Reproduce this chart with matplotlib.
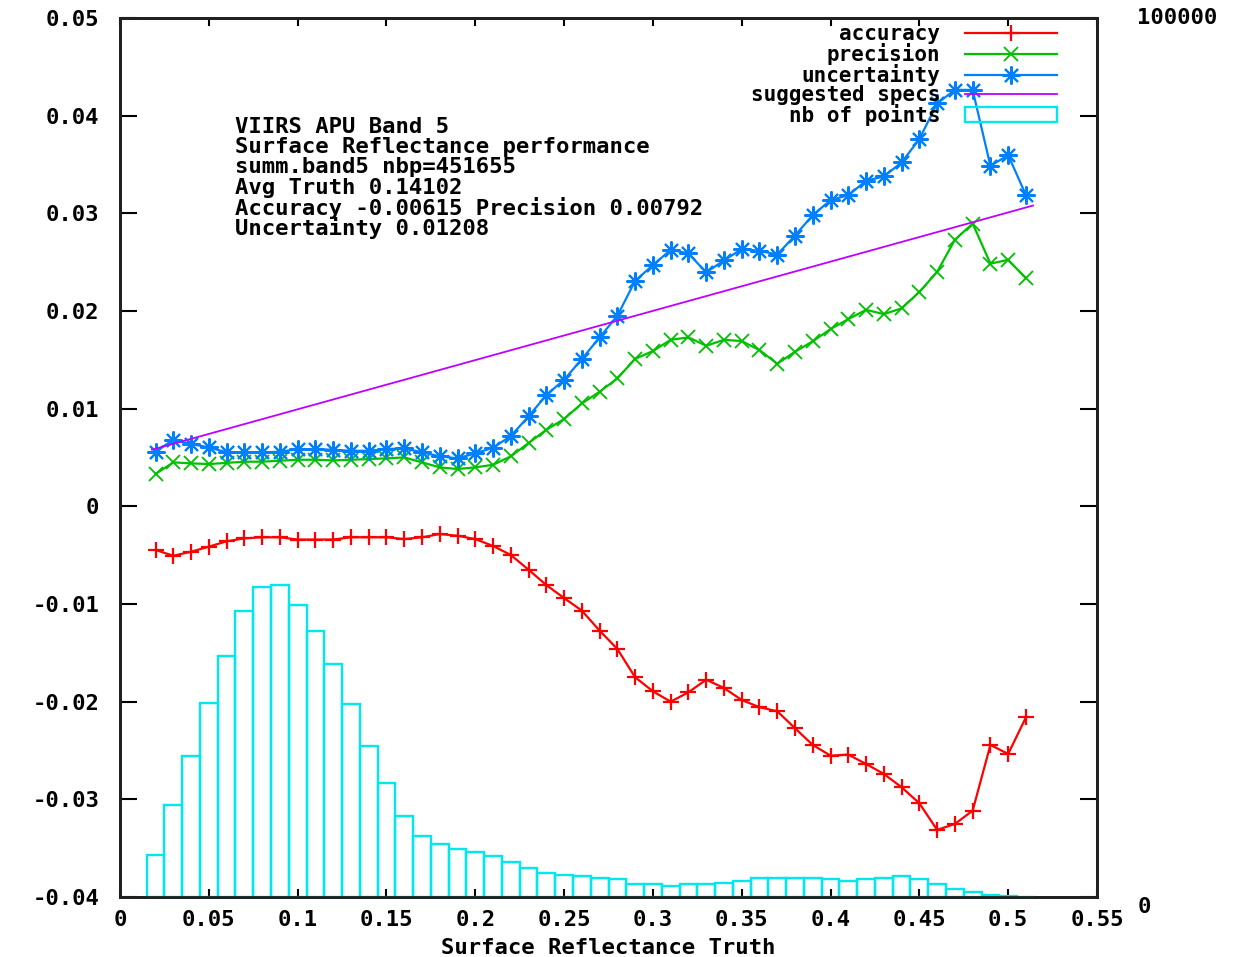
import matplotlib
matplotlib.use("Agg")
import matplotlib.pyplot as plt
from matplotlib.lines import Line2D
from matplotlib.patches import Patch

# ---- data -------------------------------------------------------------
reflectance = [0.02, 0.03, 0.04, 0.05, 0.06, 0.07, 0.08, 0.09, 0.10, 0.11,
               0.12, 0.13, 0.14, 0.15, 0.16, 0.17, 0.18, 0.19, 0.20, 0.21,
               0.22, 0.23, 0.24, 0.25, 0.26, 0.27, 0.28, 0.29, 0.30, 0.31,
               0.32, 0.33, 0.34, 0.35, 0.36, 0.37, 0.38, 0.39, 0.40, 0.41,
               0.42, 0.43, 0.44, 0.45, 0.46, 0.47, 0.48, 0.49, 0.50, 0.51]

accuracy = [-0.00447, -0.00506, -0.00465, -0.00413, -0.00358, -0.00328, -0.00317, -0.00317, -0.00340, -0.00340,
            -0.00340, -0.00317, -0.00317, -0.00317, -0.00335, -0.00317, -0.00284, -0.00301, -0.00335, -0.00406,
            -0.00498, -0.00649, -0.00806, -0.00939, -0.01068, -0.01273, -0.01461, -0.01750, -0.01894, -0.02000,
            -0.01904, -0.01775, -0.01860, -0.01983, -0.02057, -0.02098, -0.02272, -0.02443, -0.02553, -0.02542,
            -0.02638, -0.02740, -0.02876, -0.03040, -0.03313, -0.03252, -0.03116, -0.02443, -0.02535, -0.02160]

precision = [0.00331, 0.00450, 0.00440, 0.00433, 0.00445, 0.00457, 0.00457, 0.00467, 0.00477, 0.00477,
             0.00470, 0.00477, 0.00484, 0.00491, 0.00501, 0.00450, 0.00399, 0.00382, 0.00399, 0.00425,
             0.00512, 0.00648, 0.00784, 0.00894, 0.01054, 0.01173, 0.01310, 0.01510, 0.01590, 0.01705,
             0.01730, 0.01644, 0.01705, 0.01692, 0.01600, 0.01460, 0.01583, 0.01690, 0.01815, 0.01917,
             0.02012, 0.01968, 0.02027, 0.02195, 0.02400, 0.02730, 0.02895, 0.02485, 0.02524, 0.02334]

uncertainty = [0.00560, 0.00682, 0.00638, 0.00604, 0.00553, 0.00553, 0.00553, 0.00559, 0.00586, 0.00586,
               0.00579, 0.00569, 0.00569, 0.00586, 0.00594, 0.00553, 0.00512, 0.00491, 0.00542, 0.00600,
               0.00720, 0.00921, 0.01139, 0.01296, 0.01508, 0.01730, 0.01951, 0.02309, 0.02470, 0.02626,
               0.02590, 0.02395, 0.02518, 0.02634, 0.02616, 0.02578, 0.02773, 0.02982, 0.03135, 0.03186,
               0.03333, 0.03378, 0.03521, 0.03760, 0.04125, 0.04264, 0.04264, 0.03486, 0.03596, 0.03186]

nb_points = [4810, 10470, 16080, 22110, 27390, 32500, 35300, 35500, 33220, 30230,
             26470, 21920, 17180, 12940, 9220, 6940, 6030, 5500, 5150, 4660,
             3950, 3270, 2700, 2540, 2350, 2200, 2010, 1440, 1440, 1250,
             1440, 1440, 1630, 1820, 2160, 2160, 2160, 2160, 2010, 1820,
             2010, 2160, 2350, 2010, 1440, 950, 570, 230, 80, 0]

spec_x = [0.018, 0.514]
spec_y = [0.0058, 0.0308]

x_ticks = [0.0, 0.05, 0.10, 0.15, 0.20, 0.25, 0.30, 0.35, 0.40, 0.45, 0.50, 0.55]
x_tick_labels = ["0", "0.05", "0.1", "0.15", "0.2", "0.25", "0.3", "0.35",
                 "0.4", "0.45", "0.5", "0.55"]
y_ticks = [-0.04, -0.03, -0.02, -0.01, 0.0, 0.01, 0.02, 0.03, 0.04, 0.05]
y_tick_labels = ["-0.04", "-0.03", "-0.02", "-0.01", "0", "0.01", "0.02",
                 "0.03", "0.04", "0.05"]
y2_ticks = [0, 100000]
y2_tick_labels = ["0", "100000"]

info_lines = ["VIIRS APU Band 5",
              "Surface Reflectance performance",
              "summ.band5 nbp=451655",
              "Avg Truth 0.14102",
              "Accuracy -0.00615 Precision 0.00792",
              "Uncertainty 0.01208"]
legend_labels = ["accuracy", "precision", "uncertainty", "suggested specs",
                 "nb of points"]
x_label = "Surface Reflectance Truth"

# ---- style ------------------------------------------------------------
RED = "#ff0000"
GREEN = "#00c000"
BLUE = "#0080ff"
MAGENTA = "#c000ff"
CYAN = "#00e8ee"
FONT = dict(family="DejaVu Sans Mono", weight="bold")
FS = 16
LEG_FS = 15

W, H = 1255, 957
fig = plt.figure(figsize=(W / 100, H / 100), dpi=100)
ax = fig.add_axes([120 / W, 60 / H, 977 / W, 879 / H])
ax2 = ax.twinx()

# curves on the left axis
asterisk = (8, 2, 0)
acc_style = dict(color=RED, lw=1.6, marker="+", ms=12, mew=1.6)
pre_style = dict(color=GREEN, lw=1.6, marker="x", ms=10, mew=1.3)
unc_style = dict(color=BLUE, lw=1.6, marker=asterisk, ms=13, mew=1.5)
spec_style = dict(color=MAGENTA, lw=1.3)

ax.plot(reflectance, accuracy, **acc_style)
ax.plot(reflectance, precision, **pre_style)
ax.plot(reflectance, uncertainty, **unc_style)
ax.plot(spec_x, spec_y, **spec_style)

# histogram of points on the right axis
ax2.bar(reflectance, nb_points, width=0.01, fill=False, edgecolor=CYAN,
        lw=1.7)

ax.set_xlim(0, 0.55)
ax.set_ylim(-0.04, 0.05)
ax2.set_ylim(0, 100000)

ax.set_xticks(x_ticks)
ax.set_xticklabels(x_tick_labels, fontdict=FONT, fontsize=FS)
ax.set_yticks(y_ticks)
ax.set_yticklabels(y_tick_labels, fontdict=FONT, fontsize=FS)
ax.tick_params(axis="x", direction="in", length=6, width=1.5, top=True,
               pad=9, colors="black")
ax.tick_params(axis="y", direction="in", length=12, width=1.5, right=True,
               pad=15, colors="black")

ax2.set_yticks(y2_ticks)
ax2.set_yticklabels(y2_tick_labels, fontdict=FONT, fontsize=FS)
ax2.tick_params(axis="y", direction="out", length=0, pad=29)
y2_labels = ax2.get_yticklabels()
y2_labels[0].set_verticalalignment("top")
y2_labels[1].set_verticalalignment("center")

for a in (ax, ax2):
    for sp in a.spines.values():
        sp.set_linewidth(2.0)
        sp.set_color("#202020")

ax.set_xlabel(x_label, fontdict=FONT, fontsize=FS, labelpad=6)

# annotation block
for i, line in enumerate(info_lines):
    ax2.text(0.1177, 0.876 - i * 0.0230, line, transform=ax2.transAxes,
             ha="left", va="center", fontsize=FS, **FONT)

# legend: label on the left, sample on the right
handles = [
    Line2D([], [], **acc_style),
    Line2D([], [], **pre_style),
    Line2D([], [], **unc_style),
    Line2D([], [], **spec_style),
    Patch(facecolor="none", edgecolor=CYAN, lw=1.7),
]
leg = ax2.legend(handles, legend_labels, loc="upper right",
                 bbox_to_anchor=(0.959, 0.993), frameon=False,
                 markerfirst=False, handlelength=4.4, handletextpad=1.2,
                 labelspacing=-0.05, borderpad=0, borderaxespad=0,
                 prop=dict(family="DejaVu Sans Mono", weight="bold",
                           size=LEG_FS))

fig.savefig("out.png", dpi=100, facecolor="white")
